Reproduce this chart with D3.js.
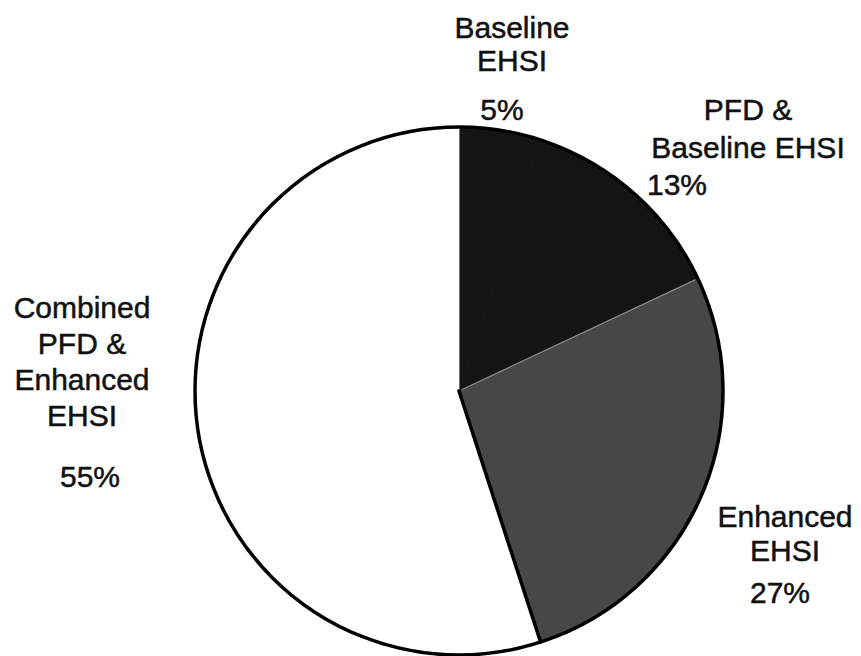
<!DOCTYPE html>
<html>
<head>
<meta charset="utf-8">
<script src="https://cdn.jsdelivr.net/npm/d3@7"></script>
<style>
  html, body { margin: 0; padding: 0; background: #fff; }
  svg { display: block; }
  text { font-family: "Liberation Sans", Arial, Helvetica, sans-serif; fill: #111; stroke: #111; stroke-width: 0.5px; }
</style>
</head>
<body>
<svg id="chart" width="861" height="656"></svg>
<script>
// ---- data ----
const categories = ["Baseline EHSI", "PFD & Baseline EHSI", "Enhanced EHSI", "Combined PFD & Enhanced EHSI"];
const values = [5, 13, 27, 55];
const labelLines = [
  ["Baseline", "EHSI"],
  ["PFD &", "Baseline EHSI"],
  ["Enhanced", "EHSI"],
  ["Combined", "PFD &", "Enhanced", "EHSI"]
];
const percentLabels = ["5%", "13%", "27%", "55%"];
const fills = ["#141414", "#141414", "#474747", "#ffffff"];

// ---- layout ----
const W = 861, H = 656;
const cx = 459, cy = 391, R = 264;
const fontSize = 30;
const labelLayout = [
  { x: 512, y: 38, gap: 33, anchor: "middle", px: 502, py: 120, panchor: "middle" },
  { x: 748, y: 120, gap: 38, anchor: "middle", px: 647, py: 195, panchor: "start" },
  { x: 785, y: 527, gap: 34, anchor: "middle", px: 780, py: 603, panchor: "middle" },
  { x: 82, y: 318, gap: 36, anchor: "middle", px: 90, py: 487, panchor: "middle" }
];

const svg = d3.select("#chart");

const pie = d3.pie().sort(null).value(d => d).startAngle(0).endAngle(2 * Math.PI);
const arcs = pie(values);
const arc = d3.arc().innerRadius(0).outerRadius(R);

const g = svg.append("g").attr("transform", `translate(${cx},${cy})`);

g.selectAll("path.slice")
  .data(arcs)
  .join("path")
  .attr("class", "slice")
  .attr("d", arc)
  .attr("fill", (d, i) => fills[i])
  .attr("stroke", (d, i) => fills[i])
  .attr("stroke-width", 0.8);

// faint light divider between the dark slices and the enhanced slice
const a18 = arcs[1].endAngle;
g.append("line")
  .attr("x1", 3 * Math.sin(a18)).attr("y1", -3 * Math.cos(a18))
  .attr("x2", (R - 3) * Math.sin(a18))
  .attr("y2", -(R - 3) * Math.cos(a18))
  .attr("stroke", "#aaa")
  .attr("stroke-width", 1.2)
  .attr("stroke-opacity", 0.7);

// black divider between enhanced and combined slices
const a45 = arcs[2].endAngle;
g.append("line")
  .attr("x1", 0).attr("y1", 0)
  .attr("x2", R * Math.sin(a45))
  .attr("y2", -R * Math.cos(a45))
  .attr("stroke", "#000")
  .attr("stroke-width", 3.5)
  .attr("stroke-linecap", "round");

// outer ring
g.append("circle").attr("r", R).attr("fill", "none").attr("stroke", "#000").attr("stroke-width", 3.5);

// ---- labels ----
labelLines.forEach((lines, i) => {
  const L = labelLayout[i];
  const t = svg.append("text")
    .attr("text-anchor", L.anchor)
    .attr("font-size", fontSize);
  lines.forEach((ln, j) => {
    t.append("tspan").attr("x", L.x).attr("y", L.y + j * L.gap).text(ln);
  });
  svg.append("text")
    .attr("x", L.px).attr("y", L.py)
    .attr("text-anchor", L.panchor)
    .attr("font-size", fontSize)
    .text(percentLabels[i]);
});
</script>
</body>
</html>
